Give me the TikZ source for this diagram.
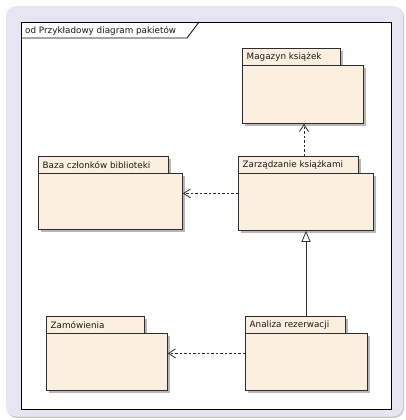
\documentclass[tikz,border=0pt]{standalone}
\usepackage{fontspec}
\setmainfont{DejaVu Sans}
\usetikzlibrary{arrows.meta,shadows}

\definecolor{pkgfill}{RGB}{251,240,223}
\definecolor{frameback}{RGB}{230,230,242}
\definecolor{inkline}{RGB}{45,45,45}

\begin{document}
\begin{tikzpicture}[x=1pt,y=-1pt,
  boxshadow/.style={drop shadow={shadow xshift=2.5pt, shadow yshift=-2.5pt, fill=black!40, opacity=0.7}},
  pkgbody/.style={draw=inkline, line width=0.8pt, fill=pkgfill, inner sep=0pt,
    anchor=north west, boxshadow},
  pkgtab/.style={draw=inkline, line width=0.8pt, fill=pkgfill, inner sep=0pt,
    anchor=north west, minimum height=17pt, boxshadow},
  pkglabel/.style={font=\fontsize{8.8}{10}\selectfont, inner sep=0pt, anchor=west, text=black!90},
  dep/.style={draw=inkline, line width=0.8pt, dash pattern=on 2.5pt off 2pt,
    -{Straight Barb[length=7pt,width=9pt]}},
  gen/.style={draw=inkline, line width=0.8pt,
    -{Triangle[open,length=11pt,width=9pt,fill=white]}}
]
% canvas and rounded outer panel
\path[use as bounding box] (0,0) rectangle (405,420);
\fill[white] (0,0) rectangle (405,420);
\fill[black!22, rounded corners=10pt] (7,7) rectangle (404,418);
\fill[frameback, rounded corners=10pt] (6,6) rectangle (403,416.5);

% diagram frame with its name tab
\node[draw=black, fill=white, line width=0.8pt, inner sep=0pt, anchor=north west,
  minimum width=370pt, minimum height=387pt] (frame) at (21,22) {};
\draw[black, line width=0.8pt] ([yshift=-16pt]frame.north west) -- ++(166,0) -- ++(12,-16);
\node[pkglabel] (title) at ([xshift=4pt,yshift=-8.5pt]frame.north west) {od Przykładowy diagram pakietów};

% packages: tab first, then body
\node[pkgtab, minimum width=98pt] (magT) at (242,48) {};
\node[pkgbody, minimum width=121pt, minimum height=58pt] (magB) at (242,65) {};
\node[pkglabel] (magL) at ([xshift=4.5pt,yshift=-0.5pt]magT.west) {Magazyn książek};

\node[pkgtab, minimum width=130pt] (bazaT) at (38,156) {};
\node[pkgbody, minimum width=144pt, minimum height=56pt] (bazaB) at (38,173) {};
\node[pkglabel] (bazaL) at ([xshift=4.5pt,yshift=-0.5pt]bazaT.west) {Baza członków biblioteki};

\node[pkgtab, minimum width=120pt] (zarzT) at (238,156) {};
\node[pkgbody, minimum width=135pt, minimum height=57pt] (zarzB) at (238,173) {};
\node[pkglabel] (zarzL) at ([xshift=4.5pt,yshift=-0.5pt]zarzT.west) {Zarządzanie książkami};

\node[pkgtab, minimum width=98pt] (zamT) at (46,316) {};
\node[pkgbody, minimum width=121pt, minimum height=57pt] (zamB) at (46,333) {};
\node[pkglabel] (zamL) at ([xshift=4.5pt,yshift=-0.5pt]zamT.west) {Zamówienia};

\node[pkgtab, minimum width=100pt] (anaT) at (245,316) {};
\node[pkgbody, minimum width=122pt, minimum height=57pt] (anaB) at (245,333) {};
\node[pkglabel] (anaL) at ([xshift=4.5pt,yshift=-0.5pt]anaT.west) {Analiza rezerwacji};

% dependencies and generalization
\draw[dep] ([xshift=66pt]zarzT.north west) coordinate (a) -- (a |- magB.south);
\draw[dep] ([yshift=8.5pt]zarzB.west) coordinate (b) -- (b -| bazaB.east);
\draw[gen] ([xshift=61pt]anaT.north west) coordinate (c) -- (c |- zarzB.south);
\draw[dep] ([yshift=8.5pt]anaB.west) coordinate (d) -- (d -| zamB.east);
\end{tikzpicture}
\end{document}
